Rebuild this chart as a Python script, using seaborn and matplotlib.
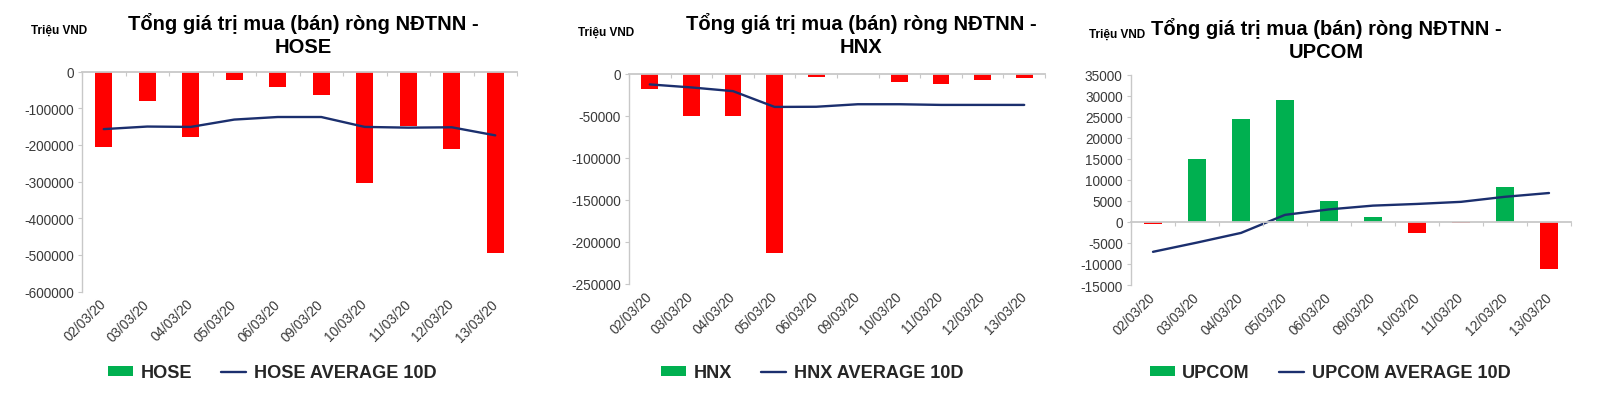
import numpy as np
import matplotlib
matplotlib.use("Agg")
import matplotlib.pyplot as plt
import seaborn as sns
from matplotlib.patches import Patch
from matplotlib.lines import Line2D
from matplotlib.ticker import FuncFormatter

# ---------------- data ----------------
dates = ["02/03/20", "03/03/20", "04/03/20", "05/03/20", "06/03/20",
         "09/03/20", "10/03/20", "11/03/20", "12/03/20", "13/03/20"]

hose_values = [-205000, -81000, -178000, -24000, -41000, -65000, -303000, -148000, -212000, -495000]
hose_avg = [-157000, -150000, -151000, -131000, -124000, -124000, -151000, -153000, -152000, -174000]
hose_yticks = [-600000, -500000, -400000, -300000, -200000, -100000, 0]

hnx_values = [-18000, -50000, -50000, -213000, -3000, -400, -9500, -12000, -7000, -5000]
hnx_avg = [-12400, -16000, -20400, -39200, -39000, -36000, -36000, -36800, -36800, -36800]
hnx_yticks = [-250000, -200000, -150000, -100000, -50000, 0]

upcom_values = [-500, 15000, 24500, 29000, 4900, 1100, -2600, -350, 8400, -11200]
upcom_avg = [-7100, -4900, -2600, 1700, 3000, 3900, 4300, 4800, 6000, 6900]
upcom_yticks = [-15000, -10000, -5000, 0, 5000, 10000, 15000, 20000, 25000, 30000, 35000]

title_text = "Tổng giá trị mua (bán) ròng NĐTNN -"
unit_text = "Triệu VND"
avg_suffix = " AVERAGE 10D"

# ---------------- style ----------------
W, H = 1600, 406
RED = "#FF0000"
GREEN = "#00B050"
NAVY = "#1B2F6E"
GRAY = "#C8C8C8"
TXT = "#3A3A3A"

sns.set_theme(style="white")
plt.rcParams["font.family"] = ["Liberation Sans", "DejaVu Sans"]
plt.rcParams["axes.unicode_minus"] = False

fig = plt.figure(figsize=(W / 100, H / 100), dpi=100)


def rect(x0, x1, y0, y1):
    return [x0 / W, 1 - y1 / H, (x1 - x0) / W, (y1 - y0) / H]


panels = [
    dict(name="HOSE", values=hose_values, avg=hose_avg, yticks=hose_yticks,
         box=(82, 517, 72.5, 292.7), title=(303, 35), unit=(59, 31), legend=(272, 374)),
    dict(name="HNX", values=hnx_values, avg=hnx_avg, yticks=hnx_yticks,
         box=(629, 1045, 75, 285), title=(861, 35), unit=(606, 33), legend=(812, 374)),
    dict(name="UPCOM", values=upcom_values, avg=upcom_avg, yticks=upcom_yticks,
         box=(1131, 1571, 76, 286), title=(1326, 40), unit=(1117, 35), legend=(1330, 374)),
]

fmt = FuncFormatter(lambda v, p: f"{int(round(v))}")

for p in panels:
    ax = fig.add_axes(rect(*p["box"]))
    colors = [GREEN if v >= 0 else RED for v in p["values"]]
    sns.barplot(x=dates, y=p["values"], hue=dates, palette=colors, legend=False,
                width=0.4, saturation=1, linewidth=0, ax=ax)
    sns.pointplot(x=dates, y=p["avg"], color=NAVY, markers="", linestyles="-",
                  errorbar=None, linewidth=1.7, ax=ax)

    n = len(dates)
    ax.set_xlim(-0.5, n - 0.5)
    ax.set_ylim(min(p["yticks"]), max(p["yticks"]))
    ax.set_yticks(p["yticks"])
    ax.yaxis.set_major_formatter(fmt)
    ax.set_xlabel("")
    ax.set_ylabel("")
    for s in ["top", "right", "bottom"]:
        ax.spines[s].set_visible(False)
    ax.spines["left"].set_color(GRAY)
    ax.spines["left"].set_linewidth(1.0)
    ax.tick_params(axis="y", left=True, length=3, width=0.8, color=GRAY,
                   labelsize=9.8, labelcolor=TXT, pad=3)
    ax.tick_params(axis="x", bottom=True, length=0, labelsize=9.8, labelcolor=TXT, pad=7)
    for lab in ax.get_xticklabels():
        lab.set_rotation(45)
        lab.set_ha("right")
        lab.set_va("center")
        lab.set_rotation_mode("anchor")

    # category axis crossing at zero
    tw = ax.twiny()
    tw.set_xlim(ax.get_xlim())
    tw.patch.set_visible(False)
    for s in ["top", "left", "right"]:
        tw.spines[s].set_visible(False)
    tw.spines["bottom"].set_position(("data", 0))
    tw.spines["bottom"].set_color(GRAY)
    tw.spines["bottom"].set_linewidth(1.3)
    tw.xaxis.set_ticks_position("bottom")
    tw.set_xticks(np.arange(n + 1) - 0.5)
    tw.tick_params(axis="x", bottom=True, top=False, direction="out", length=3,
                   width=0.8, color=GRAY, labelbottom=False, labeltop=False)

    # titles
    fig.text(p["title"][0] / W, 1 - p["title"][1] / H, f"{title_text}\n{p['name']}",
             ha="center", va="center", multialignment="center", fontsize=14.5,
             fontweight="bold", color="black", linespacing=1.32)
    fig.text(p["unit"][0] / W, 1 - p["unit"][1] / H, unit_text, ha="center", va="center",
             fontsize=8.5, fontweight="bold", color="black")

    handles = [Patch(facecolor=GREEN, edgecolor="none"),
               Line2D([0], [0], color=NAVY, lw=1.7)]
    labels = [p["name"], p["name"] + avg_suffix]
    fig.legend(handles, labels, loc="center",
               bbox_to_anchor=(p["legend"][0] / W, 1 - p["legend"][1] / H),
               ncol=2, frameon=False, prop=dict(weight="bold", size=13.1),
               handlelength=1.4, handleheight=0.5, handletextpad=0.4,
               columnspacing=1.6, borderaxespad=0, borderpad=0)

fig.savefig("out.png", dpi=100)
